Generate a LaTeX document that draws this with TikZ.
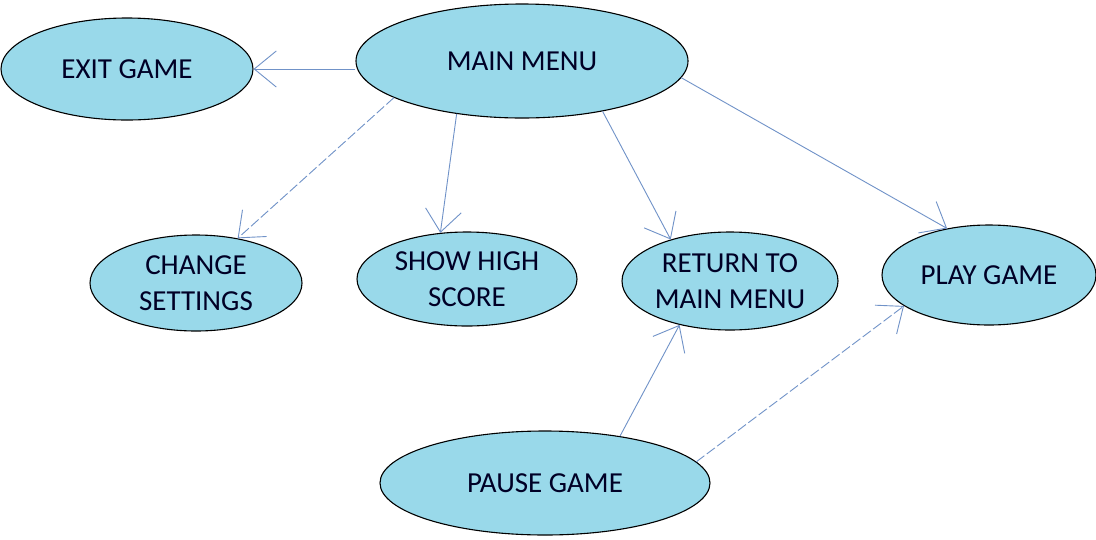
\documentclass[tikz,border=0pt]{standalone}
\usepackage{fontspec}
\setmainfont{Carlito}
\usetikzlibrary{arrows.meta,shapes.geometric}
\definecolor{bubble}{RGB}{153,217,234}
\definecolor{link}{RGB}{112,146,200}
\tikzset{
  state/.style={ellipse, draw=black, line width=1.1pt, fill=bubble, inner sep=0pt,
    align=center, font=\fontsize{29}{36}\selectfont, text=black!85!blue},
  flow/.style={draw=link, line width=0.9pt,
    -{Straight Barb[length=22pt, width=36pt, line width=0.9pt]}},
  flowdash/.style={flow, dash pattern=on 10pt off 3pt}
}
\begin{document}
\begin{tikzpicture}[x=1pt, y=-1pt]
  \useasboundingbox (0,0) rectangle (1096,539);
  \fill[white] (0,0) rectangle (1096,539);

  \node[state, minimum width=252pt, minimum height=102pt] (exit) at (127,69) {EXIT GAME};
  \node[state, minimum width=332pt, minimum height=114pt] (main) at (522,61) {MAIN MENU};
  \node[state, minimum width=212pt, minimum height=96pt] (settings) at (196,283) {CHANGE\\SETTINGS};
  \node[state, minimum width=220pt, minimum height=94pt] (score) at (467,279) {SHOW HIGH\\SCORE};
  \node[state, minimum width=216pt, minimum height=98pt] (return) at (730,281) {RETURN TO\\MAIN MENU};
  \node[state, minimum width=214pt, minimum height=100pt] (play) at (989,275) {PLAY GAME};
  \node[state, minimum width=330pt, minimum height=104pt] (pause) at (545,483) {PAUSE GAME};

  \draw[flow] (main.west |- exit.east) -- (exit.east);
  \draw[flowdash] (main.196) -- (settings.47);
  \draw[flow] (main.219) -- (score.120);
  \draw[flow] (main.-32) -- (return.145);
  \draw[flow] (main.-6.5) -- (play.132);
  \draw[flow] (pause.32) -- (return.221);
  \draw[flowdash] (pause.8) -- (play.200);
\end{tikzpicture}
\end{document}
